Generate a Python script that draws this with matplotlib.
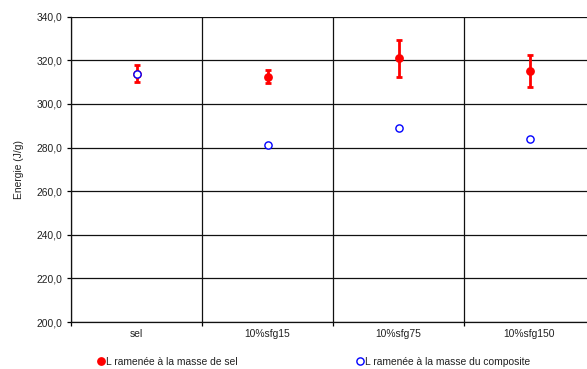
import matplotlib
matplotlib.use("Agg")
import matplotlib.pyplot as plt
from matplotlib.lines import Line2D
import numpy as np

plt.rcParams['font.family'] = ['Liberation Sans', 'DejaVu Sans']

categories = ["sel", "10%sfg15", "10%sfg75", "10%sfg150"]
sel_values = [313.8, 312.4, 320.9, 315.2]
sel_errors = [3.9, 3.0, 8.4, 7.4]
composite_values = [313.7, 281.2, 288.8, 283.8]
yticks = [200, 220, 240, 260, 280, 300, 320, 340]
labels = ["L ramenée à la masse de sel", "L ramenée à la masse du composite"]

FS = 7.4
TXT = '#222222'
W, H = 587, 369
fig = plt.figure(figsize=(W / 100, H / 100), dpi=100)
ax = fig.add_axes([71 / W, 1 - 322 / H, 524 / W, (322 - 16.7) / H])

x = np.arange(len(categories))
ax.errorbar(x, sel_values, yerr=sel_errors, fmt='o', color='#ff0000', ecolor='#ff0000',
            elinewidth=2, capsize=2.3, capthick=2, markersize=5.3, zorder=3)
ax.plot(x, composite_values, 'o', markerfacecolor='white', markeredgecolor='#0000ff',
        markeredgewidth=1, markersize=5.2, linestyle='none', zorder=4)

ax.set_xlim(-0.5, len(categories) - 0.5)
ax.set_ylim(200, 340)
ax.set_yticks(yticks)
ax.set_yticklabels([f"{v:.1f}".replace('.', ',') for v in yticks], fontsize=FS, color=TXT)
ax.set_xticks(x)
ax.set_xticklabels(categories, fontsize=FS, color=TXT)
ax.tick_params(axis='x', length=0, pad=5)
ax.set_xticks(np.arange(-0.5, len(categories), 1.0), minor=True)
ax.tick_params(axis='x', which='minor', length=3, width=0.9, direction='out')
ax.tick_params(axis='y', length=3, width=0.9, direction='out', pad=3)

ax.grid(axis='y', color='#111111', linewidth=0.9)
ax.grid(axis='x', which='minor', color='#111111', linewidth=0.9)
ax.set_axisbelow(True)
for s in ['top', 'right']:
    ax.spines[s].set_visible(False)
for s in ['left', 'bottom']:
    ax.spines[s].set_linewidth(0.9)
    ax.spines[s].set_color('#111111')

ax.set_ylabel("Energie (J/g)", fontsize=FS, color=TXT, labelpad=9)

h_sel = Line2D([], [], marker='o', linestyle='none', color='#ff0000', markersize=5.3)
h_comp = Line2D([], [], marker='o', linestyle='none', markerfacecolor='white',
                markeredgecolor='#0000ff', markeredgewidth=1, markersize=5.2)
kw = dict(loc='center left', frameon=False, fontsize=FS, handletextpad=0.1,
          handlelength=0.8, borderpad=0, borderaxespad=0, labelcolor=TXT)
leg1 = fig.legend([h_sel], [labels[0]], bbox_to_anchor=(97 / W, 1 - 362 / H), **kw)
leg2 = fig.legend([h_comp], [labels[1]], bbox_to_anchor=(356 / W, 1 - 362 / H), **kw)
fig.savefig("out.png", dpi=100)
